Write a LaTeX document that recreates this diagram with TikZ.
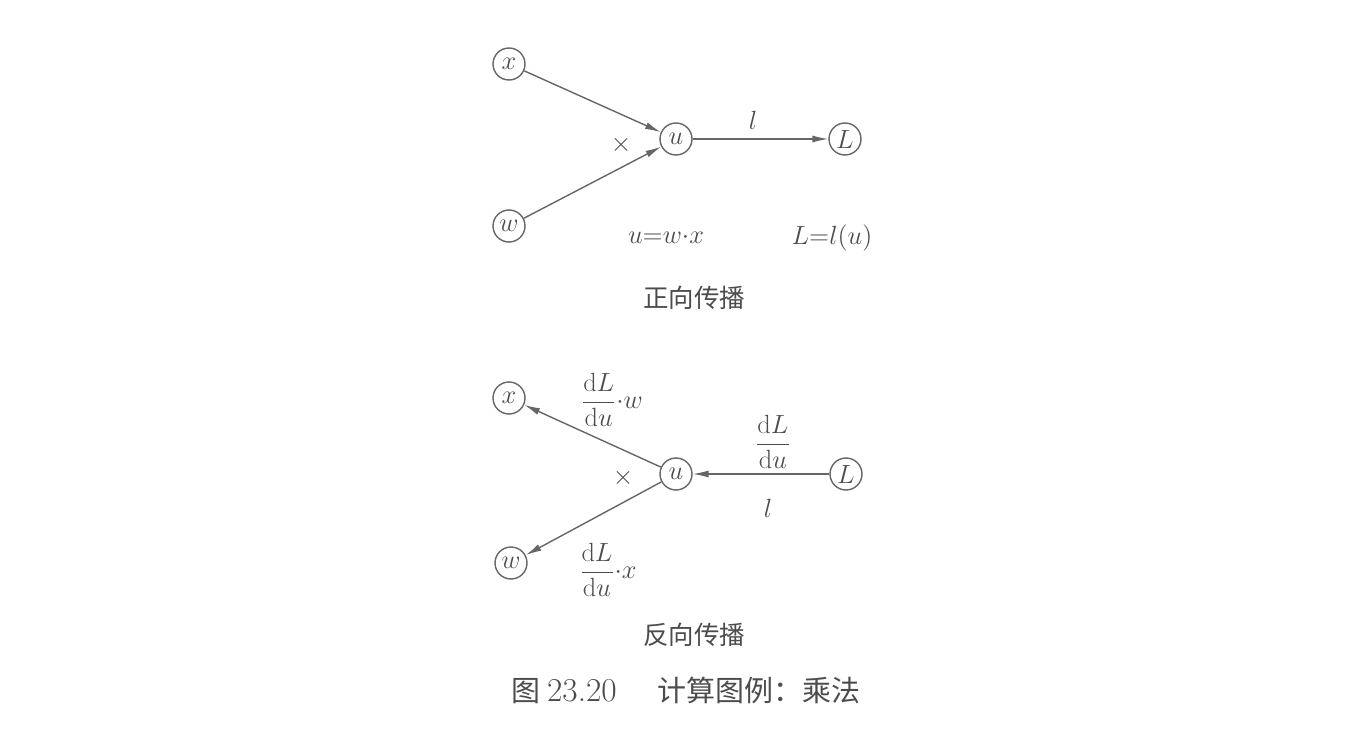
\RequirePackage{fix-cm}
\documentclass[tikz,border=0pt]{standalone}
\usepackage{tikz}
\usepackage{xcolor}
\usepackage{fontspec}
\newfontfamily\cjk{Noto Sans CJK SC}
\usetikzlibrary{arrows.meta}

\begin{document}
\begin{tikzpicture}[x=0.02cm, y=-0.02cm,
        var/.style={circle, draw=black!60, thick, inner sep=0pt, minimum size=0.64cm, text=black!70, font=\fontsize{15}{17}\selectfont},
        lbl/.style={text=black!70, font=\fontsize{15}{17}\selectfont},
        edge/.style={-{Latex[length=9pt,width=4pt]}, thick, draw=black!60}]
        \useasboundingbox (0, 0) rectangle (1350, 740);

        % forward pass
        \node[var] (xf) at (509, 64) {\(x\)};
        \node[var] (wf) at (509, 226) {\(w\)};
        \node[var] (uf) at (676, 139) {\(u\)};
        \node[var] (Lf) at (845, 139) {\(L\)};
        \draw [edge] (xf) -- (uf);
        \draw [edge] (wf) -- (uf);
        \draw [edge] (uf) -- (Lf);
        \node[lbl] (mulf) at (621, 145) {\(\times\)};
        \node[lbl] (lf) at (753, 120) {\(l\)};
        \node[lbl] (eqf1) at (666, 238) {\(u{=}w{\cdot}x\)};
        \node[lbl] (eqf2) at (832, 238) {\(L{=}l(u)\)};
        \node[lbl, font=\fontsize{14.5}{17}\cjk] (titlef) at (694, 298) {正向传播};

        % backward pass
        \node[var] (xb) at (509, 398) {\(x\)};
        \node[var] (wb) at (511, 563) {\(w\)};
        \node[var] (ub) at (676, 474) {\(u\)};
        \node[var] (Lb) at (846, 474) {\(L\)};
        \draw [edge] (ub) -- (xb);
        \draw [edge] (ub) -- (wb);
        \draw [edge] (Lb) -- (ub);
        \node[lbl] (gradx) at (612, 400) {\(\displaystyle\frac{\mathrm{d}L}{\mathrm{d}u}{\cdot}w\)};
        \node[lbl] (gradw) at (608, 570) {\(\displaystyle\frac{\mathrm{d}L}{\mathrm{d}u}{\cdot}x\)};
        \node[lbl] (gradu) at (773, 442) {\(\displaystyle\frac{\mathrm{d}L}{\mathrm{d}u}\)};
        \node[lbl] (lb) at (768, 508) {\(l\)};
        \node[lbl] (mulb) at (623, 478) {\(\times\)};
        \node[lbl, font=\fontsize{14.5}{17}\cjk] (titleb) at (694, 635) {反向传播};

        \node[lbl, font=\fontsize{16.5}{19}\cjk] (caption) at (686, 690) {图 {\rmfamily\fontsize{19}{21}\selectfont 23.20}\hspace{1.4em}计算图例：乘法};
    \end{tikzpicture}
\end{document}
